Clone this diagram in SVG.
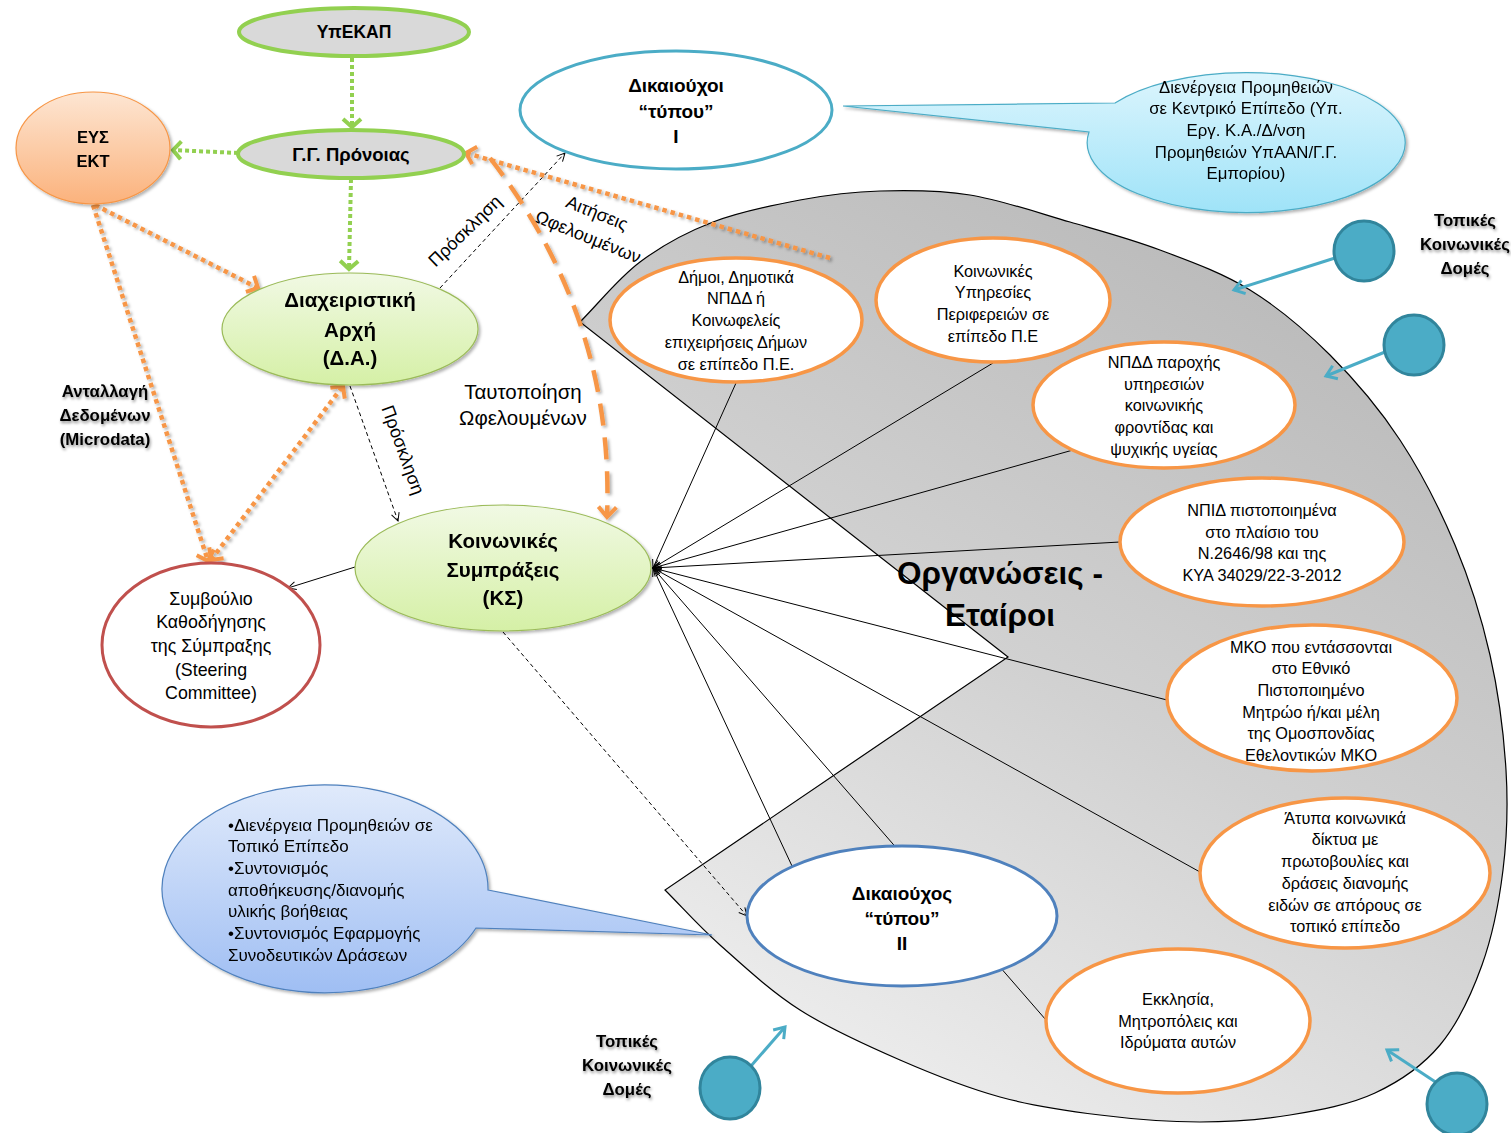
<svg xmlns="http://www.w3.org/2000/svg" width="1511" height="1133" viewBox="0 0 1511 1133">
<style>
text{font-family:"Liberation Sans",Arial,sans-serif;fill:#000}
.c{text-anchor:middle}
.b{font-weight:bold}
.o{font-size:16.3px}
.t{font-size:20.5px;font-weight:bold}
.d{font-size:19px;font-weight:bold}
.lb{font-size:16.8px;font-weight:bold}
.org{fill:#fff;stroke:#f79646;stroke-width:3.5}
.gg{fill:#d9d9d9;stroke:#92d050;stroke-width:4}
.gd{fill:none;stroke:#92d050;stroke-width:4;stroke-dasharray:4 3}
.od{fill:none;stroke:#f79646;stroke-width:4.5;stroke-dasharray:4.5 4}
.ln{fill:none;stroke:#000;stroke-width:1}
.dl{fill:none;stroke:#000;stroke-width:1;stroke-dasharray:4 3}
.tl{fill:none;stroke:#4bacc6;stroke-width:3}
.tc{fill:#4bacc6;stroke:#31859c;stroke-width:3}
</style>
<defs>
<linearGradient id="gGrey" x1="0.8" y1="0.1" x2="0.3" y2="1">
<stop offset="0" stop-color="#bababa"/><stop offset="0.5" stop-color="#d1d1d1"/><stop offset="1" stop-color="#efefef"/>
</linearGradient>
<linearGradient id="gOr" x1="0" y1="0" x2="0" y2="1"><stop offset="0" stop-color="#fde6d3"/><stop offset="1" stop-color="#fbb27c"/></linearGradient>
<linearGradient id="gGr" x1="0" y1="0" x2="0" y2="1"><stop offset="0" stop-color="#f1f9e4"/><stop offset="1" stop-color="#d5f0a6"/></linearGradient>
<linearGradient id="gCy" x1="0" y1="0" x2="0" y2="1"><stop offset="0" stop-color="#dcf5fd"/><stop offset="1" stop-color="#9fe3f8"/></linearGradient>
<linearGradient id="gBl" x1="0" y1="0" x2="0" y2="1"><stop offset="0" stop-color="#e0eafb"/><stop offset="1" stop-color="#9fbef3"/></linearGradient>
<filter id="sh" x="-20%" y="-20%" width="140%" height="140%"><feDropShadow dx="2" dy="2" stdDeviation="1.5" flood-color="#000" flood-opacity="0.3"/></filter>
<filter id="tsh" x="-20%" y="-30%" width="140%" height="160%"><feDropShadow dx="1" dy="2" stdDeviation="1.5" flood-color="#000" flood-opacity="0.45"/></filter>
<marker id="mG" viewBox="-12 -12 14 24" markerWidth="14" markerHeight="24" refX="0" refY="0" orient="auto" markerUnits="userSpaceOnUse" overflow="visible"><path d="M-8,-9 L0,0 L-8,9" fill="none" stroke="#92d050" stroke-width="4"/></marker>
<marker id="mO" viewBox="-12 -12 14 24" markerWidth="14" markerHeight="24" refX="0" refY="0" orient="auto" markerUnits="userSpaceOnUse" overflow="visible"><path d="M-9,-9 L0,0 L-9,9" fill="none" stroke="#f79646" stroke-width="4"/></marker>
<marker id="mOs" viewBox="-12 -12 14 24" markerWidth="14" markerHeight="24" refX="0" refY="0" orient="auto-start-reverse" markerUnits="userSpaceOnUse" overflow="visible"><path d="M-9,-9 L0,0 L-9,9" fill="none" stroke="#f79646" stroke-width="4"/></marker>
<marker id="mOL" viewBox="-12 -12 14 24" markerWidth="14" markerHeight="24" refX="0" refY="0" orient="auto" markerUnits="userSpaceOnUse" overflow="visible"><path d="M-10,-9 L0,0 L-10,9" fill="none" stroke="#f79646" stroke-width="4"/></marker>
<marker id="mK" viewBox="-9 -6 10 12" markerWidth="10" markerHeight="12" refX="0" refY="0" orient="auto" markerUnits="userSpaceOnUse" overflow="visible"><path d="M-8,-4 L0,0 L-8,4" fill="none" stroke="#000" stroke-width="1"/></marker>
<marker id="mT" viewBox="-12 -9 14 18" markerWidth="14" markerHeight="18" refX="0" refY="0" orient="auto" markerUnits="userSpaceOnUse" overflow="visible"><path d="M-10,-7 L0,0 L-10,7" fill="none" stroke="#4bacc6" stroke-width="3"/></marker>
</defs>
<rect width="1511" height="1133" fill="#fff"/>

<g id="labels-under">
<text font-size="18" transform="translate(597,213) rotate(22)" text-anchor="middle" dy="6">Αιτήσεις</text>
<text font-size="18" transform="translate(588,237) rotate(22)" text-anchor="middle" dy="6">Ωφελουμένων</text>
</g>

<g id="organizations-area">
<path fill="url(#gGrey)" stroke="#000" stroke-width="1.2" d="M580,322 C600,302 617.8,278.7 640,262 C662.2,245.3 686.3,232.3 713,222 C739.7,211.7 772.2,205.2 800,200 C827.8,194.8 851.7,191.8 880,191 C908.3,190.2 938.3,189.8 970,195 C1001.7,200.2 1038.3,212.8 1070,222 C1101.7,231.2 1130,238.7 1160,250 C1190,261.3 1221.7,272.5 1250,290 C1278.3,307.5 1305,330 1330,355 C1355,380 1379.2,408.3 1400,440 C1420.8,471.7 1440,509.2 1455,545 C1470,580.8 1481.5,617.5 1490,655 C1498.5,692.5 1503.8,734.2 1506,770 C1508.2,805.8 1507,837.5 1503,870 C1499,902.5 1492.5,935.8 1482,965 C1471.5,994.2 1457.8,1023.7 1440,1045 C1422.2,1066.3 1400,1081.3 1375,1093 C1350,1104.7 1319.2,1110.2 1290,1115 C1260.8,1119.8 1231.7,1122 1200,1122 C1168.3,1122 1133.3,1119.2 1100,1115 C1066.7,1110.8 1033.3,1106.2 1000,1097 C966.7,1087.8 933.3,1074.5 900,1060 C866.7,1045.5 830,1029.2 800,1010 C770,990.8 742.5,965 720,945 C697.5,925 683.3,908.3 665,890 L1008,657 Z"/>
<text class="b c" font-size="31.5" x="1000" y="584">Οργανώσεις -</text>
<text class="b c" font-size="31.5" x="1000" y="626">Εταίροι</text>
</g>

<g id="callout-central" filter="url(#sh)">
<path fill="url(#gCy)" stroke="#4bacc6" stroke-width="1.2" d="M1115,103 L843,106 L1089,132 A159 70 0 1 0 1115,103 Z"/>
<text class="c" font-size="16.8" x="1246" y="93">Διενέργεια  Προμηθειών</text>
<text class="c" font-size="16.8" x="1246" y="114">σε Κεντρικό  Επίπεδο (Υπ.</text>
<text class="c" font-size="16.8" x="1246" y="136">Εργ. Κ.Α./Δ/νση</text>
<text class="c" font-size="16.8" x="1246" y="158">Προμηθειών ΥπΑΑΝ/Γ.Γ.</text>
<text class="c" font-size="16.8" x="1246" y="179">Εμπορίου)</text>
</g>

<g id="callout-local" filter="url(#sh)">
<path fill="url(#gBl)" stroke="#4f81bd" stroke-width="1.2" d="M488,890 L712,935 L476,928 A163 104 0 1 1 488,890 Z"/>
<text font-size="17" x="228" y="831">•Διενέργεια Προμηθειών σε</text>
<text font-size="17" x="228" y="852">Τοπικό Επίπεδο</text>
<text font-size="17" x="228" y="874">•Συντονισμός</text>
<text font-size="17" x="228" y="896">αποθήκευσης/διανομής</text>
<text font-size="17" x="228" y="917">υλικής βοήθειας</text>
<text font-size="17" x="228" y="939">•Συντονισμός Εφαρμογής</text>
<text font-size="17" x="228" y="961">Συνοδευτικών Δράσεων</text>
</g>

<g id="connectors">
<path class="ln" d="M736,383 L653,568" marker-end="url(#mK)"/>
<path class="ln" d="M993,363 L653,568" marker-end="url(#mK)"/>
<path class="ln" d="M1073,450 L653,568" marker-end="url(#mK)"/>
<path class="ln" d="M1120,542 L653,568" marker-end="url(#mK)"/>
<path class="ln" d="M1167,700 L653,568" marker-end="url(#mK)"/>
<path class="ln" d="M1200,872 L653,568" marker-end="url(#mK)"/>
<path class="ln" d="M792,866 L653,568" marker-end="url(#mK)"/>
<path class="ln" d="M1046,1020 L653,568" marker-end="url(#mK)"/>
<path class="ln" d="M355,567 L288,588" marker-end="url(#mK)"/>
<path class="dl" d="M440,288 L565,153" marker-end="url(#mK)"/>
<path class="dl" d="M350,386 L398,521" marker-end="url(#mK)"/>
<path class="dl" d="M503,632 L747,916" marker-end="url(#mK)"/>
<path class="gd" d="M352,58 L352,127" marker-end="url(#mG)"/>
<path class="gd" d="M238,153 L173,150" marker-end="url(#mG)"/>
<path class="gd" d="M351,179 L349,269" marker-end="url(#mG)"/>
<g filter="url(#sh)">
<path class="od" d="M95,205 L258,288" marker-end="url(#mO)"/>
<path class="od" d="M93,205 L208,561" marker-end="url(#mO)"/>
<path class="od" d="M211,560 L343,386" marker-start="url(#mOs)" marker-end="url(#mO)"/>
<path class="od" d="M830,258 L466,153" marker-end="url(#mO)"/>
<path fill="none" stroke="#f79646" stroke-width="4.5" stroke-dasharray="22 12" d="M490,158 Q615,320 607,517" marker-end="url(#mOL)"/>
</g>
<path class="tl" d="M1335,258 L1234,290" marker-end="url(#mT)"/>
<path class="tl" d="M1385,352 L1326,376" marker-end="url(#mT)"/>
<path class="tl" d="M751,1066 L785,1027" marker-end="url(#mT)"/>
<path class="tl" d="M1437,1083 L1387,1050" marker-end="url(#mT)"/>
</g>

<g id="n-ypekap">
<ellipse class="gg" cx="354" cy="32" rx="115" ry="24"/>
<text class="c b" font-size="17.5" x="354" y="38">ΥπΕΚΑΠ</text>
</g>
<g id="n-gg">
<ellipse class="gg" cx="351" cy="154" rx="113" ry="24"/>
<text class="c b" font-size="18.5" x="351" y="161">Γ.Γ. Πρόνοιας</text>
</g>
<g id="n-eys" filter="url(#sh)">
<ellipse cx="93" cy="148" rx="77" ry="56" fill="url(#gOr)" stroke="#f79646" stroke-width="1.2"/>
<text class="c b" font-size="16.5" x="93" y="143">ΕΥΣ</text>
<text class="c b" font-size="16.5" x="93" y="167">ΕΚΤ</text>
</g>
<g id="n-da" filter="url(#sh)">
<ellipse cx="350" cy="329" rx="128" ry="56" fill="url(#gGr)" stroke="#9bbb59" stroke-width="1.2"/>
<text class="c t" x="350" y="307">Διαχειριστική</text>
<text class="c t" x="350" y="337">Αρχή</text>
<text class="c t" x="350" y="365">(Δ.Α.)</text>
</g>
<g id="n-ks" filter="url(#sh)">
<ellipse cx="503" cy="568" rx="148" ry="63" fill="url(#gGr)" stroke="#9bbb59" stroke-width="1.2"/>
<text class="c t" x="503" y="548">Κοινωνικές</text>
<text class="c t" x="503" y="577">Συμπράξεις</text>
<text class="c t" x="503" y="605">(ΚΣ)</text>
</g>
<g id="n-steering">
<ellipse cx="211" cy="645" rx="109" ry="82" fill="#fff" stroke="#c0504d" stroke-width="3"/>
<text class="c" font-size="17.8" x="211" y="605">Συμβούλιο</text>
<text class="c" font-size="17.8" x="211" y="628">Καθοδήγησης</text>
<text class="c" font-size="17.8" x="211" y="652">της Σύμπραξης</text>
<text class="c" font-size="17.8" x="211" y="676">(Steering</text>
<text class="c" font-size="17.8" x="211" y="699">Committee)</text>
</g>
<g id="n-dik1">
<ellipse cx="676" cy="110" rx="156" ry="59" fill="#fff" stroke="#4bacc6" stroke-width="3"/>
<text class="c d" x="676" y="92">Δικαιούχοι</text>
<text class="c d" x="676" y="118">“τύπου”</text>
<text class="c d" x="676" y="143">I</text>
</g>
<g id="n-dimoi">
<ellipse class="org" cx="736" cy="320" rx="126" ry="62"/>
<text class="c o" x="736" y="283">Δήμοι, Δημοτικά</text>
<text class="c o" x="736" y="304">ΝΠΔΔ ή</text>
<text class="c o" x="736" y="326">Κοινωφελείς</text>
<text class="c o" x="736" y="348">επιχειρήσεις Δήμων</text>
<text class="c o" x="736" y="370">σε επίπεδο Π.Ε.</text>
</g>
<g id="n-koinyp">
<ellipse class="org" cx="993" cy="300" rx="117" ry="62"/>
<text class="c o" x="993" y="277">Κοινωνικές</text>
<text class="c o" x="993" y="298">Υπηρεσίες</text>
<text class="c o" x="993" y="320">Περιφερειών  σε</text>
<text class="c o" x="993" y="342">επίπεδο Π.Ε</text>
</g>
<g id="n-npdd">
<ellipse class="org" cx="1164" cy="405" rx="131" ry="63"/>
<text class="c o" x="1164" y="368">ΝΠΔΔ παροχής</text>
<text class="c o" x="1164" y="390">υπηρεσιών</text>
<text class="c o" x="1164" y="411">κοινωνικής</text>
<text class="c o" x="1164" y="433">φροντίδας και</text>
<text class="c o" x="1164" y="455">ψυχικής υγείας</text>
</g>
<g id="n-npid">
<ellipse class="org" cx="1262" cy="542" rx="142" ry="64"/>
<text class="c o" x="1262" y="516">ΝΠΙΔ πιστοποιημένα</text>
<text class="c o" x="1262" y="538">στο πλαίσιο του</text>
<text class="c o" x="1262" y="559">Ν.2646/98 και της</text>
<text class="c o" x="1262" y="581">ΚΥΑ  34029/22-3-2012</text>
</g>
<g id="n-mko">
<ellipse class="org" cx="1312" cy="698" rx="145" ry="73"/>
<text class="c o" x="1311" y="653">ΜΚΟ που εντάσσονται</text>
<text class="c o" x="1311" y="674">στο Εθνικό</text>
<text class="c o" x="1311" y="696">Πιστοποιημένο</text>
<text class="c o" x="1311" y="718">Μητρώο ή/και μέλη</text>
<text class="c o" x="1311" y="739">της Ομοσπονδίας</text>
<text class="c o" x="1311" y="761">Εθελοντικών ΜΚΟ</text>
</g>
<g id="n-atypa">
<ellipse class="org" cx="1345" cy="873" rx="145" ry="75"/>
<text class="c o" x="1345" y="824">Άτυπα κοινωνικά</text>
<text class="c o" x="1345" y="845">δίκτυα με</text>
<text class="c o" x="1345" y="867">πρωτοβουλίες και</text>
<text class="c o" x="1345" y="889">δράσεις διανομής</text>
<text class="c o" x="1345" y="911">ειδών σε απόρους σε</text>
<text class="c o" x="1345" y="932">τοπικό επίπεδο</text>
</g>
<g id="n-ekklisia">
<ellipse class="org" cx="1178" cy="1021" rx="132" ry="72"/>
<text class="c o" x="1178" y="1005">Εκκλησία,</text>
<text class="c o" x="1178" y="1027">Μητροπόλεις και</text>
<text class="c o" x="1178" y="1048">Ιδρύματα αυτών</text>
</g>
<g id="n-dik2">
<ellipse cx="902" cy="916" rx="155" ry="70" fill="#fff" stroke="#4f81bd" stroke-width="3"/>
<text class="c d" x="902" y="900">Δικαιούχος</text>
<text class="c d" x="902" y="925">“τύπου”</text>
<text class="c d" x="902" y="950">II</text>
</g>

<g id="n-local1"><circle class="tc" cx="1364" cy="251" r="30"/></g>
<g id="n-local2"><circle class="tc" cx="1414" cy="345" r="30"/></g>
<g id="n-local3"><ellipse class="tc" cx="730" cy="1088" rx="30" ry="31"/></g>
<g id="n-local4"><ellipse class="tc" cx="1457" cy="1104" rx="30" ry="31"/></g>

<g id="labels">
<g filter="url(#tsh)">
<text class="c lb" x="1465" y="226">Τοπικές</text>
<text class="c lb" x="1465" y="250">Κοινωνικές</text>
<text class="c lb" x="1465" y="274">Δομές</text>
<text class="c lb" x="627" y="1047">Τοπικές</text>
<text class="c lb" x="627" y="1071">Κοινωνικές</text>
<text class="c lb" x="627" y="1095">Δομές</text>
<text class="c lb" x="105" y="397">Ανταλλαγή</text>
<text class="c lb" x="105" y="421">Δεδομένων</text>
<text class="c lb" x="105" y="445">(Microdata)</text>
</g>
<text class="c" font-size="20.5" x="523" y="399">Ταυτοποίηση</text>
<text class="c" font-size="20.5" x="523" y="425">Ωφελουμένων</text>
<text font-size="18" transform="translate(465,231) rotate(-44)" text-anchor="middle" dy="6">Πρόσκληση</text>
<text font-size="18" transform="translate(403,450) rotate(70)" text-anchor="middle" dy="6">Πρόσκληση</text>
</g>
</svg>
